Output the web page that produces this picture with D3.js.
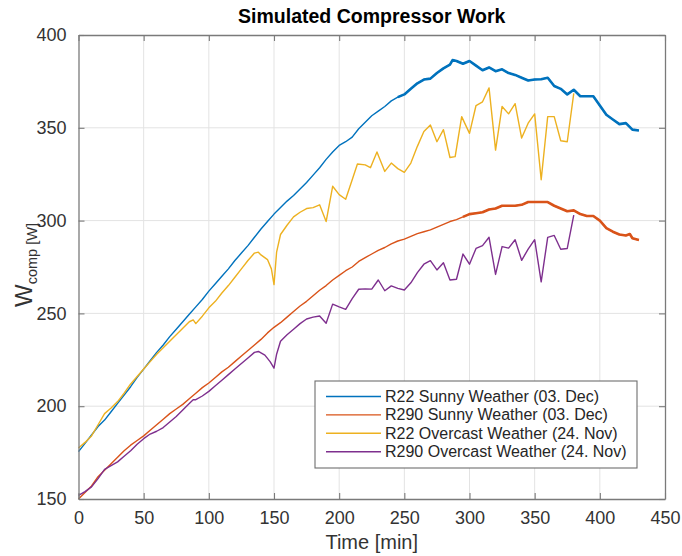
<!DOCTYPE html>
<html>
<head>
<meta charset="utf-8">
<script src="https://cdn.jsdelivr.net/npm/d3@7"></script>
<style>
  html, body { margin: 0; padding: 0; background: #ffffff; }
  svg { display: block; font-family: "Liberation Sans", Arial, Helvetica, sans-serif; }
</style>
</head>
<body>
<svg id="chart" width="682" height="556"></svg>
<script>
// Axis ticks
const xTicks = [0, 50, 100, 150, 200, 250, 300, 350, 400, 450];
const yTicks = [150, 200, 250, 300, 350, 400];

// R22, sunny weather (03. Dec)
const r22SunnyT = [0,5,10,15,20,25,30,35,40,45,50,55,60,65,70,75,80,85,90,95,100,105,110,115,120,125,130,135,140,145,150,155,160,165,170,175,180,185,190,195,200,205,210,215,220,225,230,235,240,245,250,255,260,265,270,275,280,285,287,290,295,300,305,310,315,320,325,330,335,340,345,350,355,360,365,370,375,380,385,390,395,400,405,410,415,420,425,430];
const r22SunnyW = [175.5,180,184.5,189,192.5,197,201.5,206,210.5,215.5,220,224.5,229,233,237.5,241.5,245.5,249.5,253.5,257.5,262,266,270,274,278.5,282.5,286.5,291,295.5,299.5,303.5,307,310.5,313.5,317,320.5,324.5,328.5,333,337,340.5,342.5,345,349.5,353,356.5,359,361.5,364.5,366.5,368,371,374,376,376.5,379.5,382,384,386.5,386,384.5,386,383.5,381,382.5,380.5,381.5,379.5,378.5,377,375.5,376,376.2,377,372.5,371,368,370.5,367,367,367,362,357,354.5,352,352.5,349,348.5];

// R290, sunny weather (03. Dec)
const r290SunnyT = [0,5,10,15,20,25,30,35,40,45,50,55,60,65,70,75,80,85,90,95,100,105,110,115,120,125,130,135,140,145,150,155,160,165,170,175,180,185,190,195,200,205,210,215,220,225,230,235,240,245,250,255,260,265,270,275,280,285,290,295,300,305,310,315,320,325,330,335,340,345,350,355,360,365,370,375,380,385,390,395,400,405,410,415,420,423,425,430];
const r290SunnyW = [150,153.5,157,162,165.5,169,172.5,176,179,181.5,184,187,190,193,196,198.5,201,204,207,210,212.5,215.5,218.5,221,224,227,230,233,236,239.5,242.5,245,248,251,254,256.5,259.5,262.5,265,268,270.5,273,275,278,280,282,284,285.5,287.5,289,290,291.5,293,294,295,296.5,298,299.5,300.5,302,303.5,304,304.5,306,306.5,308,308,308,308.5,310,310,310,310,308,306.5,305,305.5,303.5,302.5,302.5,300,296,294,292.5,292,292.8,290.5,289.5];

// R22, overcast weather (24. Nov)
const r22OvercastT = [0,5,10,15,20,25,30,35,40,45,50,55,60,65,70,75,80,85,88,90,95,100,105,110,115,120,125,130,135,138,140,145,148,150,152,155,160,165,170,175,180,185,190,195,200,205,210,214,220,224,229,235,240,245,250,255,260,265,270,275,280,285,289,294,300,305,310,315,320,325,330,335,340,345,350,355,360,365,370,375,380];
const r22OvercastW = [177.5,180.5,184,190,196,199,202.5,207,212,216,220,224,228,231.5,235,238.5,242,245.5,246.5,244.5,248.5,253,256.5,261,265,269.5,274,278.5,282.5,283,281.5,279,274,265.5,283,292.5,297.5,302,304.5,306.5,307,308.5,299.5,318.5,314,311.5,322,330.5,330,328.5,337,326.5,331,328,326,331,340,348,351.5,342.5,349,334,334.5,356,347,362,364,371.5,338,361.5,357.5,363,344.5,352.5,357.5,322,356,356,343,342.5,368.5];

// R290, overcast weather (24. Nov)
const r290OvercastT = [0,5,10,15,20,25,30,35,40,45,50,55,60,65,70,75,80,85,88,90,95,100,105,110,115,120,125,130,135,138,143,147,150,152,155,160,165,170,175,180,185,190,195,200,205,210,215,220,225,230,235,240,245,250,255,260,265,270,275,280,285,290,295,300,305,310,315,320,325,330,335,340,345,350,355,360,365,370,375,380];
const r290OvercastW = [152,154,156.5,161,166,168,170,173,176,179.5,182.5,185,186.5,188.5,191.5,194.5,198,201.5,203.5,203.5,205.5,208,211,214,217,220,223,226,229,229.5,227.5,224,220.5,228,235,238.5,241.5,244.5,247,248,248.6,244.7,255,253.5,252.2,258,263,263.2,263.1,268,262.2,264.8,263.5,262.6,266.5,272,276.5,278.4,273.4,277.3,268,268.4,282,276.5,285,286.5,291,271,286,285.2,289.7,278.6,284.6,289.7,267,291,292,284.6,285,303];

const seriesNames = [
  "R22 Sunny Weather (03. Dec)",
  "R290 Sunny Weather (03. Dec)",
  "R22 Overcast Weather (24. Nov)",
  "R290 Overcast Weather (24. Nov)"
];
const seriesColors = ["#0072BD", "#D95319", "#EDB120", "#7E2F8E"];

const zip = (t, w) => t.map((v, i) => ({ t: v, w: w[i] }));
const series = [
  zip(r22SunnyT, r22SunnyW),
  zip(r290SunnyT, r290SunnyW),
  zip(r22OvercastT, r22OvercastW),
  zip(r290OvercastT, r290OvercastW)
];

const svg = d3.select("#chart");
const plotLeft = 78.5, plotRight = 665, plotTop = 35, plotBottom = 499;

const x = d3.scaleLinear().domain([0, 450]).range([plotLeft, plotRight]);
const y = d3.scaleLinear().domain([150, 400]).range([plotBottom, plotTop]);

// grid
const grid = svg.append("g");
grid.selectAll("line.gx").data(xTicks.slice(1, -1)).enter().append("line")
  .attr("x1", d => x(d)).attr("x2", d => x(d))
  .attr("y1", plotTop).attr("y2", plotBottom)
  .attr("stroke", "#e3e3e3").attr("stroke-width", 1);
grid.selectAll("line.gy").data(yTicks.slice(1, -1)).enter().append("line")
  .attr("x1", plotLeft).attr("x2", plotRight)
  .attr("y1", d => y(d)).attr("y2", d => y(d))
  .attr("stroke", "#e3e3e3").attr("stroke-width", 1);

// lines
const line = d3.line().x(d => x(d.t)).y(d => y(d.w));
const plot = svg.append("g");
series.forEach((s, i) => {
  plot.append("path").datum(s)
    .attr("fill", "none")
    .attr("stroke", seriesColors[i])
    .attr("stroke-width", 1.4)
    .attr("stroke-linejoin", "round")
    .attr("d", line);
});
// the sunny curves are drawn heavier over their later part
[[0, 245], [1, 295]].forEach(([i, from]) => {
  plot.append("path").datum(series[i].filter(d => d.t >= from))
    .attr("fill", "none")
    .attr("stroke", seriesColors[i])
    .attr("stroke-width", 2.6)
    .attr("stroke-linejoin", "round")
    .attr("d", line);
});

// axes (ticks inside, mirrored on top/right)
const axisColor = "#7a7a7a";
const tickLen = 6;
const fmt = d3.format("d");
function styleAxis(g) {
  g.select(".domain").attr("stroke", axisColor).attr("stroke-width", 1.3);
  g.selectAll(".tick line").attr("stroke", axisColor).attr("stroke-width", 1.1);
  g.selectAll(".tick text").attr("fill", "#333333").style("font-size", "18px")
    .style("font-family", "Liberation Sans, Arial, sans-serif");
}
svg.append("g").attr("transform", `translate(0,${plotBottom})`)
  .call(d3.axisBottom(x).tickValues(xTicks).tickFormat(fmt).tickSizeInner(-tickLen).tickSizeOuter(0).tickPadding(12))
  .call(styleAxis);
svg.append("g").attr("transform", `translate(0,${plotTop})`)
  .call(d3.axisTop(x).tickValues(xTicks).tickFormat("").tickSizeInner(-tickLen).tickSizeOuter(0))
  .call(styleAxis);
svg.append("g").attr("transform", `translate(${plotLeft},0)`)
  .call(d3.axisLeft(y).tickValues(yTicks).tickFormat(fmt).tickSizeInner(-tickLen).tickSizeOuter(0).tickPadding(12))
  .call(styleAxis);
svg.append("g").attr("transform", `translate(${plotRight},0)`)
  .call(d3.axisRight(y).tickValues(yTicks).tickFormat("").tickSizeInner(-tickLen).tickSizeOuter(0))
  .call(styleAxis);

// title
svg.append("text")
  .attr("x", (plotLeft + plotRight) / 2).attr("y", 23)
  .attr("text-anchor", "middle")
  .style("font-size", "19.5px").style("font-weight", "bold")
  .attr("fill", "#000000")
  .text("Simulated Compressor Work");

// x label
svg.append("text")
  .attr("x", (plotLeft + plotRight) / 2).attr("y", 549)
  .attr("text-anchor", "middle")
  .style("font-size", "20px")
  .attr("fill", "#333333")
  .text("Time [min]");

// y label with subscript
const yl = svg.append("text")
  .attr("transform", `translate(32,${(plotTop + plotBottom) / 2 - 2}) rotate(-90)`)
  .attr("text-anchor", "middle")
  .attr("fill", "#333333");
yl.append("tspan").style("font-size", "24px").text("W");
yl.append("tspan").style("font-size", "14.5px").attr("dy", 5).text("comp [W]");

// legend
const lg = svg.append("g");
const lgX = 315, lgY = 381, lgW = 322, lgH = 87;
lg.append("rect").attr("x", lgX).attr("y", lgY).attr("width", lgW).attr("height", lgH)
  .attr("fill", "#ffffff").attr("stroke", "#6e6e6e").attr("stroke-width", 1.1);
seriesNames.forEach((name, i) => {
  const cy = 396.5 + i * 18.4;
  lg.append("line").attr("x1", 326).attr("x2", 381).attr("y1", cy).attr("y2", cy)
    .attr("stroke", seriesColors[i]).attr("stroke-width", 1.4);
  lg.append("text").attr("x", 385).attr("y", cy + 5.5)
    .style("font-size", "16px").attr("fill", "#262626").text(name);
});
</script>
</body>
</html>
